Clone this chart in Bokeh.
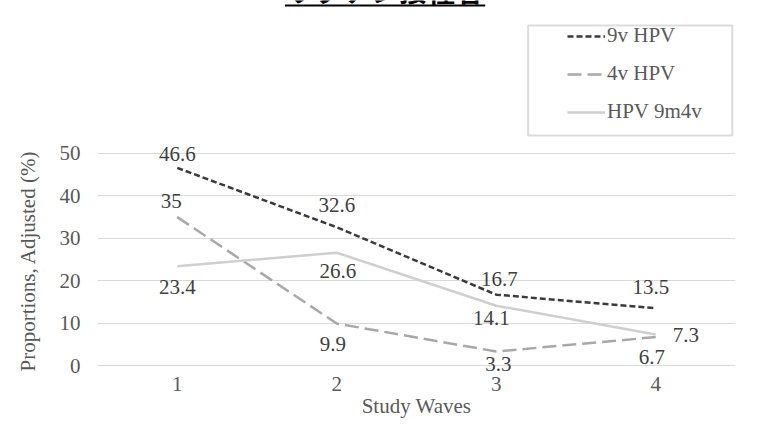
from bokeh.plotting import figure
from bokeh.models import (ColumnDataSource, LabelSet, Legend, LegendItem,
                          BoxAnnotation, Label, FixedTicker, Range1d, Title)
from bokeh.embed import file_html
from bokeh.resources import INLINE

# ---- data ----
title_text = "ワクチン接種者"
waves = [1, 2, 3, 4]
wave_labels = ["1", "2", "3", "4"]
series_names = ["9v HPV", "4v HPV", "HPV 9m4v"]
v9 = [46.6, 32.6, 16.7, 13.5]
v4 = [35, 9.9, 3.3, 6.7]
v9m4 = [23.4, 26.6, 14.1, 7.3]
y_ticks = [0, 10, 20, 30, 40, 50]
x_title = "Study Waves"
y_title = "Proportions, Adjusted (%)"

# ---- styles ----
SERIF = "Liberation Serif"
FS = "21px"
colors = ["#3a3a3a", "#a8a8a8", "#cfcfcf"]
dashes = ["6 3", "14 6", "solid"]
# label offsets in screen px (x right, y up)
lab_dx = [[0, 0, 3, -5], [-6, -4, 2, -4], [0, 1, -5, 30]]
lab_dy = [[14, 22, 16, 21], [16, -20, -12, -20], [-21, -18, -12, 0]]

p = figure(width=754, height=422, output_backend="svg", toolbar_location=None,
           x_range=Range1d(0.5, 4.5), y_range=Range1d(-1.415, 86.08),
           min_border_left=95, min_border_right=19,
           min_border_top=0, min_border_bottom=51)
p.outline_line_color = None
p.background_fill_color = "white"
p.border_fill_color = "white"

items = []
for i, (name, vals) in enumerate(zip(series_names, [v9, v4, v9m4])):
    r = p.line(waves, vals, line_color=colors[i], line_width=2.5,
               line_dash=dashes[i])
    items.append(LegendItem(label=name, renderers=[r]))
    src = ColumnDataSource(dict(x=waves, y=vals,
                                t=[f"{v:g}" for v in vals],
                                dx=lab_dx[i], dy=lab_dy[i]))
    p.add_layout(LabelSet(x="x", y="y", text="t", source=src,
                          x_offset="dx", y_offset="dy",
                          text_align="center", text_baseline="middle",
                          text_font=SERIF, text_font_size=FS,
                          text_color="#404040"))

legend = Legend(items=items, location=(470, 247), orientation="vertical",
                border_line_color=None, background_fill_alpha=0,
                padding=0, margin=0, spacing=13, glyph_width=38,
                glyph_height=24, label_height=24, label_standoff=2,
                label_text_font=SERIF, label_text_font_size=FS,
                label_text_color="#595959")
p.add_layout(legend, "center")

# legend frame
p.add_layout(BoxAnnotation(left=3.2, right=4.48, bottom=54.25, top=80.19,
                           fill_alpha=0, line_color="#8c8c8c", line_width=2))

# cropped title with underline (as in the reference)
p.add_layout(Label(x=2.303, y=88.44, text=title_text, text_align="center",
                   text_baseline="alphabetic", text_font="Noto Sans CJK JP",
                   text_font_size="28px", text_font_style="bold",
                   text_color="#000000"))
p.add_layout(BoxAnnotation(left=1.675, right=2.931, bottom=84.67, top=85.14,
                           fill_color="#000000", fill_alpha=1,
                           line_color=None))

# axes
p.xaxis.ticker = FixedTicker(ticks=waves)
p.xaxis.major_label_overrides = {w: l for w, l in zip(waves, wave_labels)}
p.yaxis.ticker = FixedTicker(ticks=y_ticks)
for ax in (p.xaxis[0], p.yaxis[0]):
    ax.axis_line_color = None
    ax.major_tick_line_color = None
    ax.minor_tick_line_color = None
    ax.major_tick_out = 0
    ax.major_tick_in = 0
    ax.minor_tick_out = 0
    ax.minor_tick_in = 0
    ax.major_label_text_font = SERIF
    ax.major_label_text_font_size = FS
    ax.major_label_text_color = "#595959"
    ax.axis_label_text_font = SERIF
    ax.axis_label_text_font_size = FS
    ax.axis_label_text_font_style = "normal"
    ax.axis_label_text_color = "#595959"
p.xaxis.axis_label = x_title
p.xaxis.major_label_standoff = 5
p.xaxis.axis_label_standoff = 0
p.yaxis.major_label_standoff = 17

# y-axis title, centred on the 0-50 value span like the reference
ytitle = Title(text=y_title, align="left", vertical_align="top", offset=0,
               standoff=30, text_font=SERIF, text_font_size=FS,
               text_font_style="normal", text_color="#595959")
p.add_layout(ytitle, "left")

p.xgrid.visible = False
p.ygrid.grid_line_color = "#d9d9d9"
p.ygrid.grid_line_width = 1

open("out.html", "w").write(file_html(p, INLINE))
